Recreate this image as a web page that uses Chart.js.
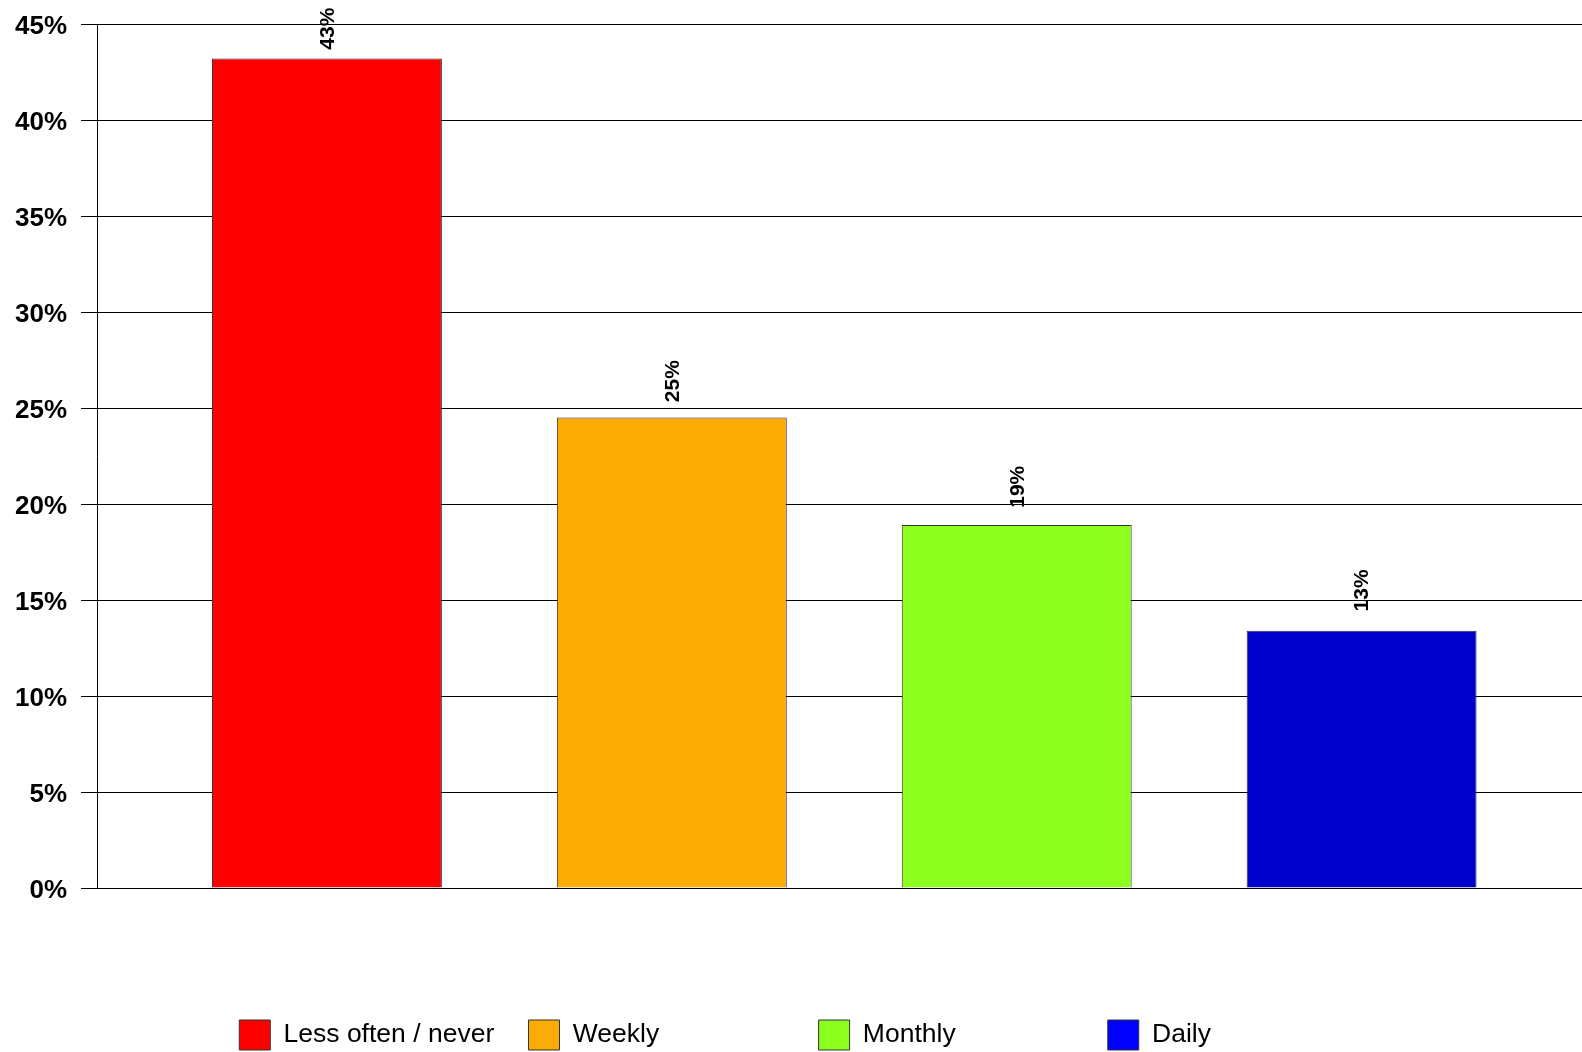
<!DOCTYPE html>
<html>
<head>
<meta charset="utf-8">
<title>Frequency</title>
<script src="https://cdn.jsdelivr.net/npm/chart.js@4.4.1/dist/chart.umd.min.js"></script>
<style>
  html, body { margin: 0; padding: 0; background: #fff; overflow: hidden; }
  canvas { display: block; }
</style>
</head>
<body>
<canvas id="ch1" width="1582" height="1052"></canvas>
<script>
// ta dedomena tou grafhmatos
var categories = ['Less often / never', 'Weekly', 'Monthly', 'Daily'];
var values = [43.2, 24.5, 18.9, 13.4]; // se %
var barColors = ['#ff0000', '#fcaa04', '#8cff1e', '#0000cc'];
var legendColors = ['#ff0000', '#fcaa04', '#8cff1e', '#0000ff']; // to Daily sto legend einai pio anoixto mple
var yTicks = [0, 5, 10, 15, 20, 25, 30, 35, 40, 45];

var fam = "'Liberation Sans', Arial, sans-serif";
var legendSlot = 289.7; // ka8e legend item pianei idio platos
var legendStart = 239.5; // pou 3ekinaei to prwto kouti
var legendPad = 10;
var legendFont = 26.5;
var chart;

Chart.defaults.font.family = fam;

// gemizei to keimeno me kena wste ola ta items na exoun idio platos
function padLabel(ctx, name, want) {
  let text = name;
  while (ctx.measureText(text + ' ').width <= want) text += ' ';
  // meta me hair space (U+200A) gia pio leptomerh rythmish
  let hw = ctx.measureText(text + '\u200A').width - ctx.measureText(text).width;
  if (hw > 0.3) {
    while (ctx.measureText(text).width + hw / 2 <= want) text += '\u200A';
  }
  return text;
}

// ta % panw apo tis mpares, gyrismena katheta
var barLabels = {
  id: 'barLabels',
  afterDatasetsDraw: function(chart) {
    let ctx = chart.ctx;
    let meta = chart.getDatasetMeta(0);
    ctx.save();
    ctx.font = 'bold 21px ' + fam;
    ctx.fillStyle = '#000';
    ctx.textAlign = 'left';
    ctx.textBaseline = 'middle';
    meta.data.forEach(function(bar, i) {
      let v = values[i];
      let gap = 24 - 0.35 * v; // stis xamhles mpares to label kathetai pio psila
      ctx.save();
      ctx.translate(bar.x + 1, bar.y - gap);
      ctx.rotate(-Math.PI / 2);
      ctx.fillText(Math.round(v) + '%', 0, 0);
      ctx.restore();
    });
    ctx.restore();
  }
};

function addChart() {
  let myChart = document.getElementById('ch1').getContext('2d');
  chart = new Chart(myChart, {
    type: 'bar',
    data: {
      labels: categories,
      datasets: [{
        data: values.map(function(v, i) { return {x: i, y: v}; }),
        backgroundColor: barColors,
        borderColor: '#333',
        borderWidth: 1,
        categoryPercentage: 1,
        barPercentage: 2 / 3
      }]
    },
    options: {
      responsive: false,
      animation: false,
      devicePixelRatio: 1,
      layout: { padding: { top: 24, left: 0, right: 0, bottom: -8 } },
      scales: {
        x: {
          type: 'linear',
          offset: false,
          min: -2 / 3,  // keno mpla apo ton a3ona = misos xwros mparas
          max: 3.639,   // h teleytaia steili kobetai sto deksi akro
          ticks: { display: false },
          grid: { display: false, offset: false },
          border: { display: false },
          afterBuildTicks: function(axis) {
            axis.ticks = categories.map(function(c, i) { return {value: i}; });
          },
          afterFit: function(axis) { axis.height = 122; }
        },
        y: {
          min: yTicks[0],
          max: yTicks[yTicks.length - 1],
          ticks: {
            stepSize: yTicks[1] - yTicks[0],
            color: '#000',
            padding: 14,
            labelOffset: 3,
            font: { size: 26, weight: 'bold' },
            callback: function(v) { return v + '%'; }
          },
          grid: { color: '#000', lineWidth: 1, tickLength: 16, tickColor: '#000' },
          border: { color: '#000', width: 1 },
          afterFit: function(axis) {
            axis.width = 97;
            axis.paddingTop = 16; // alliws to padding twn ticks katebazei to grafhma
          }
        }
      },
      plugins: {
        tooltip: { enabled: false },
        legend: {
          position: 'bottom',
          labels: {
            boxWidth: 31,
            boxHeight: 30,
            padding: legendPad,
            color: '#000',
            font: { size: legendFont },
            generateLabels: function(chart) {
              let ctx = chart.ctx;
              ctx.save();
              ctx.font = legendFont + 'px ' + fam;
              // synoliko mhkos ths grammhs wste to center na pesei sto legendStart
              let lineTotal = chart.width + legendPad - 2 * legendStart;
              let n = categories.length;
              let start = 0;
              let items = categories.map(function(name, i) {
                let end = (i < n - 1) ? (i + 1) * legendSlot : lineTotal;
                let w = end - start - legendPad;
                let text = padLabel(ctx, name, w - 31 - legendFont / 2);
                start += 31 + legendFont / 2 + ctx.measureText(text).width + legendPad;
                return {
                  text: text,
                  fillStyle: legendColors[i],
                  strokeStyle: '#333',
                  lineWidth: 1,
                  fontColor: '#000',
                  hidden: false,
                  index: i,
                  datasetIndex: 0
                };
              });
              ctx.restore();
              return items;
            }
          }
        }
      }
    },
    plugins: [barLabels]
  });
}

addChart();
</script>
</body>
</html>
